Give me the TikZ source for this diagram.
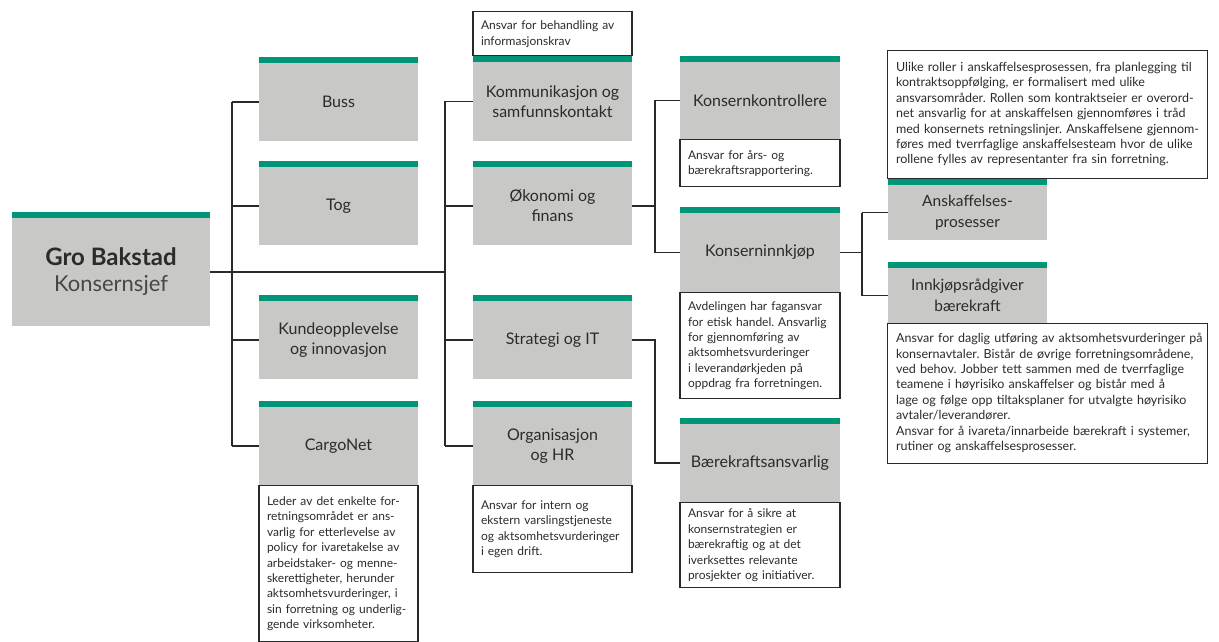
\documentclass[tikz,border=0pt]{standalone}
\usepackage{fontspec}
\setmainfont{Lato}
\usetikzlibrary{positioning}
\frenchspacing

\definecolor{boxgray}{RGB}{200,201,199}
\definecolor{barteal}{RGB}{0,148,120}
\definecolor{linedark}{RGB}{38,42,40}
\definecolor{textdark}{RGB}{42,44,42}
\definecolor{textmid}{RGB}{70,72,70}

\begin{document}
\begin{tikzpicture}[x=1pt, y=-1pt,
    every node/.style={text=textdark},
    unit/.style={fill=boxgray, minimum width=159pt, minimum height=78pt, align=center,
        inner sep=2pt, font=\fontsize{16}{20}\selectfont},
    smallunit/.style={unit, minimum height=55pt, font=\fontsize{15.5}{21}\selectfont},
    note/.style={draw=linedark, line width=1.2pt, fill=white, align=left, inner xsep=8pt,
        inner ysep=3pt, text width=143pt, font=\fontsize{12}{15.4}\selectfont},
    widenote/.style={note, text width=317pt, inner xsep=1.5pt, anchor=north west,
        font=\fontsize{12.5}{15.4}\selectfont, execute at begin node={\leftskip=7pt}},
    link/.style={draw=linedark, line width=1.2pt}
]
\useasboundingbox (0,0) rectangle (1219,642);

% Top level
\node[unit, minimum width=198pt, minimum height=108pt, font=\fontsize{22}{26}\selectfont]
    (gro) at (111,272) {{\fontsize{24}{26}\selectfont\bfseries Gro Bakstad}\\{\color{textmid}Konsernsjef}};

% Business areas
\node[unit] (buss) at (338.5,102) {Buss};
\node[unit] (tog) at (338.5,206) {Tog};
\node[unit] (kunde) at (338.5,340) {Kundeopplevelse\\og innovasjon};
\node[unit] (cargo) at (338.5,446) {CargoNet};
\node[note, below=0pt of cargo, minimum height=156pt] (cargotxt) {Leder av det enkelte for-\\
    retningsområdet er ans-\\varlig for etterlevelse av\\policy for ivaretakelse av\\
    arbeidstaker- og menne-\\skerettigheter, herunder\\aktsomhetsvurderinger, i\\
    sin forretning og underlig-\\gende virksomheter.};

% Group staff
\node[unit] (komm) at (552.5,101.5) {Kommunikasjon og\\samfunnskontakt};
\node[note, minimum height=44pt, anchor=south, font=\fontsize{12}{16}\selectfont]
    (kommtxt) at ([yshift=6pt]komm.north) {Ansvar for behandling av\\informasjonskrav};
\node[unit] (okon) at (552.5,206) {Økonomi og\\finans};
\node[unit] (strat) at (552.5,340) {Strategi og IT};
\node[unit] (org) at (552.5,446) {Organisasjon\\og HR};
\node[note, below=0pt of org, minimum height=87pt] (orgtxt) {Ansvar for intern og\\
    ekstern varslingstjeneste\\og aktsomhetsvurderinger\\i egen drift.};

% Under finance and strategy
\node[unit, minimum width=160pt, minimum height=77pt] (kontr) at (760,100.5) {Konsernkontrollere};
\node[note, below=0pt of kontr, text width=144pt, minimum height=47pt] (kontrtxt)
    {Ansvar for års- og\\bærekraftsrapportering.};
\node[unit, minimum width=160pt, minimum height=79pt] (innkj) at (760,252.5) {Konserninnkjøp};
\node[note, below=0pt of innkj, text width=144pt, minimum height=106pt] (innkjtxt)
    {Avdelingen har fagansvar\\for etisk handel. Ansvarlig\\for gjennomføring av\\
    aktsomhetsvurderinger\\i leverandørkjeden på\\oppdrag fra forretningen.};
\node[unit, minimum width=160pt] (baerk) at (760,463) {Bærekraftsansvarlig};
\node[note, below=0pt of baerk, text width=144pt, minimum height=85pt] (baerktxt)
    {Ansvar for å sikre at\\konsernstrategien er\\bærekraftig og at det\\
    iverksettes relevante\\prosjekter og initiativer.};

% Under procurement
\node[smallunit] (ansk) at (967.5,212.5) {Anskaffelses-\\prosesser};
\node[smallunit] (raad) at (967.5,295.5) {Innkjøpsrådgiver\\bærekraft};
\node[widenote, minimum height=128pt] (prosesstxt) at (887,50)
    {\begin{tabular}{@{}l@{}}
    Ulike roller i anskaffelsesprosessen, fra planlegging til\\
    kontraktsoppfølging, er formalisert med ulike\\
    ansvarsområder. Rollen som kontraktseier er overord-\\
    net ansvarlig for at anskaffelsen gjennomføres i tråd\\
    med konsernets retningslinjer. Anskaffelsene gjennom-\\
    føres med tverrfaglige anskaffelsesteam hvor de ulike\\
    rollene fylles av representanter fra sin forretning.
    \end{tabular}};
\node[widenote, minimum height=140pt] (raadtxt) at (887,323)
    {\begin{tabular}{@{}l@{}}
    Ansvar for daglig utføring av aktsomhetsvurderinger på\\
    konsernavtaler. Bistår de øvrige forretningsområdene,\\
    ved behov. Jobber tett sammen med de tverrfaglige\\
    teamene i høyrisiko anskaffelser og bistår med å\\
    lage og følge opp tiltaksplaner for utvalgte høyrisiko\\
    avtaler/leverandører.\\
    Ansvar for å ivareta/innarbeide bærekraft i systemer,\\
    rutiner og anskaffelsesprosesser.
    \end{tabular}};

% Teal bars on top of the units
\foreach \n in {gro,buss,tog,kunde,cargo,komm,okon,strat,org,kontr,innkj,baerk,ansk,raad}
    \fill[barteal] (\n.north west) rectangle ([yshift=6pt]\n.north east);

% Connectors
\coordinate (t1) at (232,0);
\coordinate (t2) at (445,0);
\coordinate (t3) at (655,0);
\coordinate (t4) at (862,0);
\draw[link] (gro.east) -- (gro.east -| t2);
\draw[link] (buss.west -| t1) -- (cargo.west -| t1);
\foreach \n in {buss,tog,kunde,cargo}
    \draw[link] (\n.west -| t1) -- (\n.west);
\draw[link] (komm.west -| t2) -- (org.west -| t2);
\foreach \n in {komm,okon,strat,org}
    \draw[link] (\n.west -| t2) -- (\n.west);
\draw[link] (okon.east) -- (okon.east -| t3);
\draw[link] (kontr.west -| t3) -- (innkj.west -| t3);
\foreach \n in {kontr,innkj}
    \draw[link] (\n.west -| t3) -- (\n.west);
\draw[link] (strat.east) -- (strat.east -| t3) -- (baerk.west -| t3) -- (baerk.west);
\draw[link] (innkj.east) -- (innkj.east -| t4);
\draw[link] (ansk.west -| t4) -- (raad.west -| t4);
\foreach \n in {ansk,raad}
    \draw[link] (\n.west -| t4) -- (\n.west);

\end{tikzpicture}
\end{document}
